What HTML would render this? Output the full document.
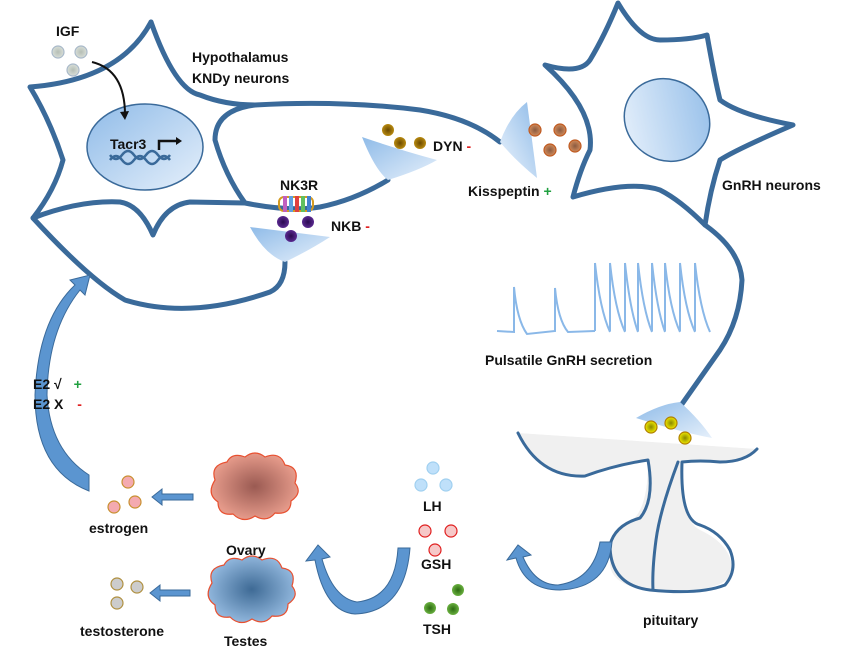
<!DOCTYPE html>
<html><head><meta charset="utf-8"><style>
html,body{margin:0;padding:0;background:#fff;}
svg{display:block;}
text{font-family:"Liberation Sans",sans-serif;font-weight:bold;fill:#111;}
</style></head><body>
<svg width="865" height="660" viewBox="0 0 865 660" xmlns="http://www.w3.org/2000/svg">
<defs>
<linearGradient id="bl" x1="0" y1="0" x2="1" y2="1"><stop offset="0" stop-color="#8fbbe8"/><stop offset="1" stop-color="#e6f0fb"/></linearGradient>
<linearGradient id="bl2" x1="1" y1="0" x2="0" y2="1"><stop offset="0" stop-color="#8fbbe8"/><stop offset="1" stop-color="#eef5fd"/></linearGradient>
<radialGradient id="ov"><stop offset="0" stop-color="#9a5a52"/><stop offset="1" stop-color="#e59a8a"/></radialGradient>
<radialGradient id="ts"><stop offset="0" stop-color="#3e6a95"/><stop offset="1" stop-color="#8fb5db"/></radialGradient>
<radialGradient id="gd"><stop offset="0" stop-color="#6b4a00"/><stop offset="1" stop-color="#b88a10"/></radialGradient>
<radialGradient id="or"><stop offset="0" stop-color="#8a5a40"/><stop offset="1" stop-color="#d08a5a"/></radialGradient>
<radialGradient id="pu"><stop offset="0" stop-color="#2a0a50"/><stop offset="1" stop-color="#5a2a90"/></radialGradient>
<radialGradient id="ye"><stop offset="0" stop-color="#888800"/><stop offset="1" stop-color="#f0e800"/></radialGradient>
<radialGradient id="gr"><stop offset="0" stop-color="#2a6a10"/><stop offset="1" stop-color="#6ab040"/></radialGradient>
<radialGradient id="gy"><stop offset="0" stop-color="#b5beb5"/><stop offset="1" stop-color="#d8ded8"/></radialGradient>
</defs>
<g fill="none" stroke="#3a6a9a" stroke-width="5" stroke-linejoin="round" stroke-linecap="round">
<path d="M151,22 Q120,80 30,87 Q50,120 63,160 Q55,190 33,218 Q80,200 120,202 Q140,205 153,235 Q165,205 190,202 L245,203"/>
<path d="M33,218 Q90,280 125,300 Q190,320 270,292 Q285,285 285,262"/>
<path d="M151,22 Q175,90 200,95 Q225,105 255,105 Q215,110 215,140 Q225,175 245,203"/>
<path d="M245,203 Q290,212 320,207 Q355,200 388,180"/>
<path d="M255,105 Q340,100 420,110 Q470,118 500,142"/>
<path d="M545,65 Q580,75 590,60 Q605,35 618,3 Q640,40 660,40 Q690,40 707,35 Q715,80 720,100 Q740,115 793,125 Q735,150 720,160 Q710,190 705,225 Q680,200 660,190 Q630,180 573,197 Q580,170 590,150 Q595,110 545,65 Z"/>
<path d="M705,225 Q740,250 742,280 Q740,320 720,350 L682,404"/>
</g>
<!-- pituitary -->
<path d="M518,433 L757,449 Q745,460 740,460 L682,462 Q680,520 700,530 Q732,545 732,570 Q730,592 660,592 Q612,588 610,565 Q610,530 630,522 Q648,510 648,462 Q610,462 585,476 Q540,478 518,433Z" fill="#f0f0f0"/>
<g fill="none" stroke="#3a6a9a" stroke-width="3" stroke-linejoin="round" stroke-linecap="round">
<path d="M518,433 Q540,478 585,476 Q615,465 648,460 Q655,500 640,518 Q615,525 610,545 Q610,585 650,590 Q700,595 725,585 Q738,570 730,550 Q720,532 700,525 Q680,520 682,462 Q700,460 720,462 Q745,462 757,449"/>
<path d="M678,462 Q660,510 656,540 Q652,570 653,590"/>
</g>
<!-- nuclei -->
<ellipse cx="145" cy="147" rx="58" ry="43" fill="url(#bl)" stroke="#3a6a9a" stroke-width="1.5"/>
<ellipse cx="667" cy="120" rx="44" ry="40" transform="rotate(35 667 120)" fill="url(#bl2)" stroke="#3a6a9a" stroke-width="1.5"/>
<path d="M110,160 q6,-8 12,0 t12,0 t12,0 t12,0 t12,0" fill="none" stroke="#3a6a9a" stroke-width="2.5"/>
<path d="M110,155 q6,8 12,0 t12,0 t12,0 t12,0 t12,0" fill="none" stroke="#3a6a9a" stroke-width="2.5"/>
<path d="M159,150 V141 H178" fill="none" stroke="#111" stroke-width="2.5"/>
<path d="M176,137 L182,141 L176,145Z" fill="#111"/>
<path d="M92,62 Q125,70 125,115" fill="none" stroke="#111" stroke-width="2"/>
<path d="M120,112 L125,120 L129,111Z" fill="#111"/>
<!-- terminals -->
<path d="M362,137 Q375,170 388,180 Q420,170 437,160 Q400,150 362,137Z" fill="url(#bl)"/>
<path d="M250,227 Q265,255 285,262 Q310,250 330,237 Q290,232 250,227Z" fill="url(#bl)"/>
<path d="M500,142 Q510,115 527,102 L537,178 Q515,160 500,142Z" fill="url(#bl2)"/>
<path d="M636,418 Q660,404 680,402 Q700,420 712,438 Q680,432 636,418Z" fill="url(#bl)"/>
<g stroke-width="1.2">
<circle cx="58" cy="52" r="6" fill="url(#gy)" stroke="#a9b9c9"/><circle cx="81" cy="52" r="6" fill="url(#gy)" stroke="#a9b9c9"/><circle cx="73" cy="70" r="6" fill="url(#gy)" stroke="#a9b9c9"/>
<circle cx="388" cy="130" r="6" fill="url(#gd)"/><circle cx="400" cy="143" r="6" fill="url(#gd)"/><circle cx="420" cy="143" r="6" fill="url(#gd)"/>
<circle cx="535" cy="130" r="6" fill="url(#or)" stroke="#c05a20"/><circle cx="560" cy="130" r="6" fill="url(#or)" stroke="#c05a20"/><circle cx="550" cy="150" r="6" fill="url(#or)" stroke="#c05a20"/><circle cx="575" cy="146" r="6" fill="url(#or)" stroke="#c05a20"/>
<circle cx="283" cy="222" r="6" fill="url(#pu)"/><circle cx="308" cy="222" r="6" fill="url(#pu)"/><circle cx="291" cy="236" r="6" fill="url(#pu)"/>
<circle cx="651" cy="427" r="6" fill="url(#ye)" stroke="#b08000"/><circle cx="671" cy="423" r="6" fill="url(#ye)" stroke="#b08000"/><circle cx="685" cy="438" r="6" fill="url(#ye)" stroke="#b08000"/>
<circle cx="433" cy="468" r="6" fill="#bfe0fa" stroke="#a0d0f0"/><circle cx="421" cy="485" r="6" fill="#bfe0fa" stroke="#a0d0f0"/><circle cx="446" cy="485" r="6" fill="#bfe0fa" stroke="#a0d0f0"/>
<circle cx="425" cy="531" r="6" fill="#f6c8c8" stroke="#e02020"/><circle cx="451" cy="531" r="6" fill="#f6c8c8" stroke="#e02020"/><circle cx="435" cy="550" r="6" fill="#f6c8c8" stroke="#e02020"/>
<circle cx="458" cy="590" r="6" fill="url(#gr)"/><circle cx="430" cy="608" r="6" fill="url(#gr)"/><circle cx="453" cy="609" r="6" fill="url(#gr)"/>
<circle cx="128" cy="482" r="6" fill="#f4aab0" stroke="#c89030"/><circle cx="114" cy="507" r="6" fill="#f4aab0" stroke="#c89030"/><circle cx="135" cy="502" r="6" fill="#f4aab0" stroke="#c89030"/>
<circle cx="117" cy="584" r="6" fill="#ccc" stroke="#b09040"/><circle cx="137" cy="587" r="6" fill="#ccc" stroke="#b09040"/><circle cx="117" cy="603" r="6" fill="#ccc" stroke="#b09040"/>
</g>
<g><rect x="279" y="197" width="34" height="14" rx="5" fill="none" stroke="#d49a20" stroke-width="2"/>
<rect x="283" y="196" width="4" height="16" fill="#c060c0"/><rect x="289" y="196" width="4" height="16" fill="#60a0e0"/><rect x="295" y="196" width="4" height="16" fill="#e04040"/><rect x="301" y="196" width="4" height="16" fill="#60c060"/><rect x="307" y="196" width="4" height="16" fill="#4080d0"/></g>
<g fill="url(#ov)" stroke="#e85030" stroke-width="1.2">
<path d="M215,480 q-5,-15 12,-18 q5,-10 18,-5 q10,-8 20,0 q15,-6 20,8 q15,2 10,18 q8,10 -4,18 q0,14 -16,12 q-8,10 -20,3 q-12,8 -22,-2 q-15,2 -15,-12 q-12,-8 -3,-22z"/>
</g>
<g fill="url(#ts)" stroke="#e85030" stroke-width="1.2">
<path d="M212,583 q-5,-15 12,-18 q5,-10 18,-5 q10,-8 20,0 q15,-6 20,8 q15,2 10,18 q8,10 -4,18 q0,14 -16,12 q-8,10 -20,3 q-12,8 -22,-2 q-15,2 -15,-12 q-12,-8 -3,-22z"/>
</g>
<g fill="#5b95d0" stroke="#3a6a9a" stroke-width="1">
<path d="M193,494 H162 V489 L152,497 L162,505 V500 H193Z"/>
<path d="M190,590 H160 V585 L150,593 L160,601 V596 H190Z"/>
</g>
<g fill="#5b95d0" stroke="#3a6a9a" stroke-width="1">
<path d="M410,548 Q405,612 355,614 Q325,612 315,560 L306,561 L318,545 L330,557 L322,559 Q333,598 357,602 Q395,598 398,548Z"/>
<path d="M612,542 Q608,588 560,590 Q525,590 516,558 L507,560 L518,545 L531,555 L523,557 Q535,585 558,585 Q593,580 600,542Z"/>
<path d="M89,491 Q35,470 35,395 Q38,320 75,285 L70,280 L90,275 L85,295 L80,290 Q48,330 47,395 Q50,450 89,475Z"/>
</g>
<g fill="none" stroke="#8ab8e8" stroke-width="2">
<path d="M497,331 L514,332 L514,287 Q517,320 527,334 L555,331 L555,288 Q558,320 568,332 L595,331"/>
<path d="M595,331 V263 M610,331 V263 M625,331 V263 M638,331 V263 M652,331 V263 M665,331 V263 M680,331 V263 M695,331 V263"/>
<path d="M595,263 Q600,310 610,332 M610,263 Q615,310 625,332 M625,263 Q630,310 638,332 M638,263 Q643,310 652,332 M652,263 Q657,310 665,332 M665,263 Q670,310 680,332 M680,263 Q685,310 695,332 M695,263 Q700,310 710,332"/>
</g>
<text x="56" y="36" font-size="14">IGF</text>
<text x="192" y="62" font-size="14">Hypothalamus</text>
<text x="192" y="83" font-size="14">KNDy neurons</text>
<text x="110" y="149" font-size="14">Tacr3</text>
<text x="280" y="190" font-size="14">NK3R</text>
<text x="331" y="231" font-size="14">NKB <tspan fill="#e02020">-</tspan></text>
<text x="433" y="151" font-size="14">DYN <tspan fill="#e02020">-</tspan></text>
<text x="468" y="196" font-size="14">Kisspeptin <tspan fill="#20a040">+</tspan></text>
<text x="722" y="190" font-size="14">GnRH neurons</text>
<text x="485" y="365" font-size="14">Pulsatile GnRH secretion</text>
<text x="33" y="389" font-size="14">E2  √  <tspan fill="#20a040" dx="8">+</tspan></text>
<text x="33" y="409" font-size="14">E2  X  <tspan fill="#e02020" dx="10">-</tspan></text>
<text x="89" y="533" font-size="14">estrogen</text>
<text x="80" y="636" font-size="14">testosterone</text>
<text x="226" y="555" font-size="14">Ovary</text>
<text x="224" y="646" font-size="14">Testes</text>
<text x="423" y="511" font-size="14">LH</text>
<text x="421" y="569" font-size="14">GSH</text>
<text x="423" y="634" font-size="14">TSH</text>
<text x="643" y="625" font-size="14">pituitary</text>
</svg>
</body></html>
